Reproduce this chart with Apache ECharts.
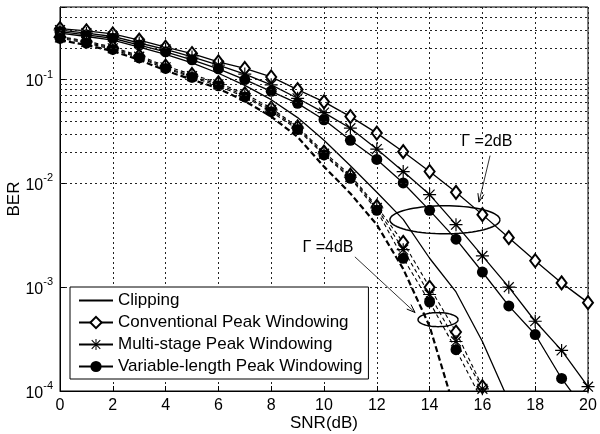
<!DOCTYPE html>
<html><head><meta charset="utf-8">
<script src="https://cdn.jsdelivr.net/npm/echarts@6/dist/echarts.min.js"></script>
<style>html,body{margin:0;padding:0;background:#fff}#c{width:600px;height:434px}</style>
</head><body><div id="c"></div>
<script>
// ---- data ----
const snr = [0,1,2,3,4,5,6,7,8,9,10,11,12,13,14,15,16,17,18,19,20];
const xTicks = [0,2,4,6,8,10,12,14,16,18,20];
const yDecades = [1e-4,1e-3,1e-2,1e-1];
const legendNames = ['Clipping','Conventional Peak Windowing','Multi-stage Peak Windowing','Variable-length Peak Windowing'];
// Gamma = 2 dB (solid)
const clip2 = [0.28,0.26,0.24,0.205,0.175,0.145,0.115,0.088,0.064,0.043,0.026,0.0148,0.0082,0.0045,0.0019,0.0009,0.0003,0.00008];
const conv2 = [0.31,0.295,0.275,0.24,0.205,0.178,0.148,0.128,0.106,0.08,0.061,0.044,0.0305,0.0202,0.013,0.0082,0.005,0.003,0.0018,0.0011,0.00071];
const multi2 = [0.30,0.28,0.26,0.225,0.195,0.165,0.138,0.113,0.089,0.066,0.048,0.034,0.0214,0.013,0.0078,0.004,0.002,0.001,0.00047,0.000246,0.00011];
const var2 = [0.29,0.27,0.25,0.215,0.185,0.155,0.127,0.1,0.077,0.059,0.041,0.026,0.017,0.0101,0.0055,0.0029,0.0014,0.00066,0.00035,0.000132,0.00006];
// Gamma = 4 dB (dashed)
const clip4 = [0.24,0.215,0.188,0.155,0.122,0.1,0.082,0.062,0.044,0.028,0.0145,0.008,0.004,0.0015,0.00042,0.00006];
const conv4 = [0.26,0.235,0.205,0.17,0.135,0.112,0.093,0.073,0.053,0.035,0.02,0.012,0.006,0.0027,0.001,0.00037,0.00011];
const multi4 = [0.255,0.23,0.2,0.166,0.131,0.108,0.09,0.07,0.051,0.034,0.0193,0.0115,0.0058,0.0023,0.00085,0.0003,0.000105];
const var4 = [0.25,0.225,0.195,0.162,0.128,0.105,0.087,0.068,0.049,0.033,0.0188,0.0112,0.0055,0.0019,0.00072,0.00025,0.00008];
// annotation anchors in data coords
const ann2 = {label:'Γ =2dB', text:[16.17,0.0251], arrow:[[16.29,0.0185],[15.87,0.0066]], ellipse:[14.58,0.00446]};
const ann4 = {label:'Γ =4dB', text:[10.15,0.0024], arrow:[[11.17,0.00196],[13.45,0.00057]], ellipse:[14.32,0.000487]};

const FONT = 'Liberation Sans, Arial, Helvetica, sans-serif';
const ASTER = 'path://M9.1 0H10.9V20H9.1Z M0 9.1H20V10.9H0Z M1.7 3L3 1.7L18.3 17L17 18.3Z M17 1.7L18.3 3L3 18.3L1.7 17Z';

function pairs(v){ return v.map((y,i)=>[snr[i],y]); }
function mk(name, vals, sym, size, dashed, width){
  const empty = sym.startsWith('empty');
  return {
    name, type:'line', data: pairs(vals), smooth:false, clip:true,
    symbol: sym, symbolSize: size, showSymbol: sym!=='none', z: 3,
    lineStyle:{color:'#000', width: width, type: dashed ? (width>1.6?[6,3]:[4,3]) : 'solid'},
    itemStyle:{color:'#000', borderColor:'#000', borderWidth: empty?1.4:0},
    emphasis:{disabled:true}, animation:false
  };
}
const minor = [];
for (const d of [1e-4,1e-3,1e-2,1e-1]) for (let k=2;k<=9;k++){ const v=+(d*k).toPrecision(2); if (v<=0.5) minor.push(v); }

const series = [
  mk(legendNames[0], clip2, 'none', 0, false, 1.3),
  mk(legendNames[1], conv2, 'emptyDiamond', [10,13], false, 1.3),
  mk(legendNames[2], multi2, ASTER, 13, false, 1.3),
  mk(legendNames[3], var2, 'circle', 11, false, 1.3),
  mk('Clipping Γ=4dB', clip4, 'none', 0, true, 2.2),
  mk('Conventional Γ=4dB', conv4, 'emptyDiamond', [10,13], true, 1.1),
  mk('Multi-stage Γ=4dB', multi4, ASTER, 13, true, 1.1),
  mk('Variable-length Γ=4dB', var4, 'circle', 11, true, 1.1),
  {
    name:'grid-minor', type:'line', data:[], silent:true, z:1,
    markLine:{silent:true, symbol:['none','none'], label:{show:false}, animation:false,
      lineStyle:{color:'#222', width:1, type:[2,3]},
      data: minor.map(v=>({yAxis:v}))}
  }
];

const chart = echarts.init(document.getElementById('c'), null, {renderer:'canvas'});
chart.setOption({
  animation:false,
  backgroundColor:'#fff',
  textStyle:{fontFamily:FONT, color:'#000'},
  grid:{left:60, right:12, top:7, bottom:43, containLabel:false, outerBoundsMode:'none',
        show:true, borderColor:'#000', borderWidth:1, backgroundColor:'transparent'},
  legend:{
    data: [{name:legendNames[0], itemStyle:{opacity:0}}, legendNames[1], legendNames[2], legendNames[3]],
    orient:'vertical', left:70, top:287, padding:[5,6,4,8],
    itemWidth:34, itemHeight:14, itemGap:5, backgroundColor:'#fff', borderColor:'#000', borderWidth:1,
    textStyle:{fontFamily:FONT, fontSize:17, color:'#000', lineHeight:17}, selectedMode:false, z:10
  },
  xAxis:{
    type:'value', min:0, max:20, interval:2,
    name:'SNR(dB)', nameLocation:'middle', nameGap:24, nameMoveOverlap:false,
    nameTextStyle:{fontFamily:FONT, fontSize:17, color:'#000'},
    axisLine:{show:true, lineStyle:{color:'#000'}},
    axisTick:{show:true, inside:true, length:5, lineStyle:{color:'#000'}},
    axisLabel:{fontFamily:FONT, fontSize:16, color:'#000', margin:7,
      formatter: v => xTicks.includes(v) ? String(v) : ''},
    splitLine:{show:true, lineStyle:{color:'#222', width:1, type:[2,3]}}
  },
  yAxis:{
    type:'log', logBase:10, min:1e-4, max:0.5,
    name:'BER', nameLocation:'middle', nameGap:37, nameMoveOverlap:false,
    nameTextStyle:{fontFamily:FONT, fontSize:17, color:'#000'},
    axisLine:{show:true, lineStyle:{color:'#000'}},
    axisTick:{show:true, inside:true, length:5, lineStyle:{color:'#000'}},
    axisLabel:{color:'#000', margin:7,
      formatter: v => {
        const e = Math.log10(v);
        if (Math.abs(e-Math.round(e))>1e-6) return '';
        if (!yDecades.some(d=>Math.abs(d-v)/d<1e-6)) return '';
        return '{b|10}{s|' + Math.round(e) + '}';
      },
      rich:{ b:{fontFamily:FONT, fontSize:16, color:'#000', verticalAlign:'bottom'},
             s:{fontFamily:FONT, fontSize:11, color:'#000', verticalAlign:'top', padding:[0,0,10,0]} }
    },
    splitLine:{show:true, lineStyle:{color:'#222', width:1, type:[2,3]}}
  },
  series
});

function P(p){ return chart.convertToPixel({gridIndex:0}, p); }
function ellipsePts(c, rx, ry){ const pts=[]; for(let i=0;i<=72;i++){const t=i/72*2*Math.PI; pts.push([c[0]+rx*Math.cos(t), c[1]+ry*Math.sin(t)]);} return pts; }
function arrow(a, b){
  const pa=P(a), pb=P(b);
  const ang=Math.atan2(pb[1]-pa[1], pb[0]-pa[0]), L=9, w=0.35;
  const h1=[pb[0]-L*Math.cos(ang-w), pb[1]-L*Math.sin(ang-w)];
  const h2=[pb[0]-L*Math.cos(ang+w), pb[1]-L*Math.sin(ang+w)];
  return [
    {type:'line', shape:{x1:pa[0],y1:pa[1],x2:pb[0],y2:pb[1]}, style:{stroke:'#000', lineWidth:0.8}, z:20},
    {type:'polyline', shape:{points:[h1,pb,h2]}, style:{stroke:'#000', lineWidth:1, fill:null}, z:20}
  ];
}
const g = [];
for (const [a, rx, ry] of [[ann2,55,14],[ann4,20,7]]) {
  const t = P(a.text);
  g.push({type:'text', x:t[0], y:t[1], z:20, style:{text:a.label, font:'16px '+FONT, fill:'#000', align:'center', verticalAlign:'middle', backgroundColor:'#fff'}});
  g.push(...arrow(a.arrow[0], a.arrow[1]));
  g.push({type:'polyline', z:20, shape:{points: ellipsePts(P(a.ellipse), rx, ry)}, style:{stroke:'#000', lineWidth:1.5, fill:null}});
}
chart.setOption({graphic:{elements:g}});
</script>
</body></html>
